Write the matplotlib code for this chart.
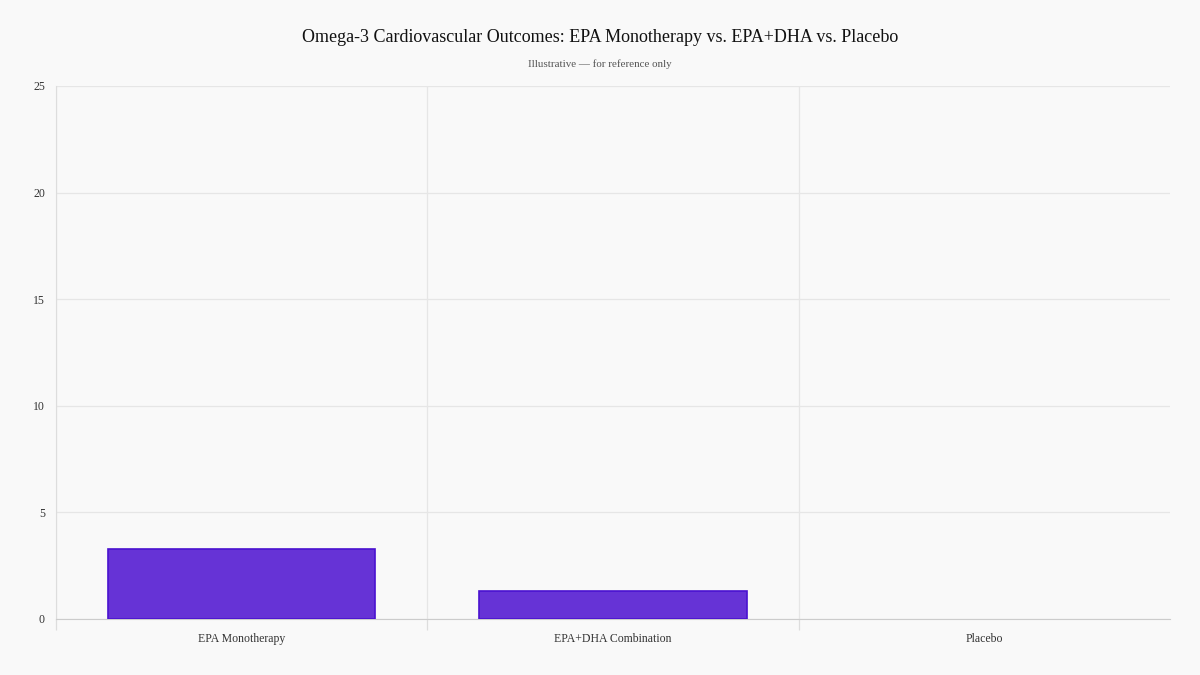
import matplotlib.pyplot as plt

categories = ['EPA Monotherapy', 'EPA+DHA Combination', 'Placebo']
values = [3.3, 1.3, 0.0]
yticks = [0, 5, 10, 15, 20, 25]

plt.rcParams['font.family'] = ['Liberation Serif', 'DejaVu Serif']

fig = plt.figure(figsize=(12, 6.75), dpi=100, facecolor='#f9f9f9')
ax = fig.add_axes([0.0467, 0.083, 0.9283, 0.7896])
ax.set_facecolor('#f9f9f9')

x = list(range(len(categories)))
# no outline on empty bars
edge_w = [1.2 if v > 0 else 0 for v in values]
ax.bar(x, values, width=0.72, color='#6633d6', edgecolor='#4a12d0', linewidth=edge_w, zorder=3)

ax.set_xlim(-0.5, len(categories) - 0.5)
ax.set_ylim(0, 25)
ax.set_yticks(yticks)
ax.set_yticklabels([str(v) for v in yticks])
ax.set_xticks(x)
ax.set_xticklabels(categories)
ax.set_xticks([i - 0.5 for i in range(len(categories))], minor=True)

ax.grid(axis='y', color='#e6e6e6', linewidth=0.9, zorder=0)
ax.grid(axis='x', which='minor', color='#e6e6e6', linewidth=0.9, zorder=0)
ax.tick_params(axis='x', which='major', length=0, pad=10, labelsize=8.5, colors='#333333')
ax.tick_params(axis='x', which='minor', length=8, color='#dddddd', width=0.9)
ax.tick_params(axis='y', length=0, pad=8, labelsize=8.5, colors='#333333')

for s in ['top', 'right']:
    ax.spines[s].set_visible(False)
ax.spines['left'].set_color('#dddddd')
ax.spines['bottom'].set_color('#cccccc')

fig.text(0.5, 0.944, 'Omega-3 Cardiovascular Outcomes: EPA Monotherapy vs. EPA+DHA vs. Placebo',
         ha='center', va='center', fontsize=13, color='#111111')
fig.text(0.5, 0.905, 'Illustrative \u2014 for reference only',
         ha='center', va='center', fontsize=7.9, color='#555555')

fig.savefig('out.png', dpi=100, facecolor=fig.get_facecolor())
